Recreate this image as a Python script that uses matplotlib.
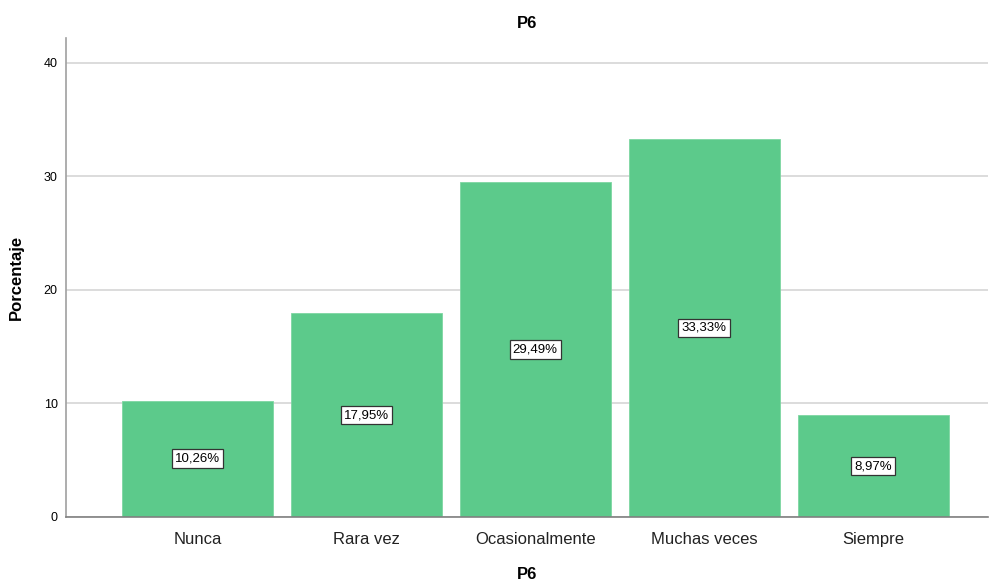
import matplotlib
matplotlib.use('Agg')
import matplotlib.pyplot as plt

categories = ['Nunca', 'Rara vez', 'Ocasionalmente', 'Muchas veces', 'Siempre']
percentages = [10.26, 17.95, 29.49, 33.33, 8.97]
yticks = [0, 10, 20, 30, 40]

plt.rcParams['font.family'] = ['Liberation Sans', 'DejaVu Sans']

fig = plt.figure(figsize=(9.9, 5.82), dpi=100)
ax = fig.add_axes([0.0667, 0.1117, 0.9313, 0.823])

x = range(len(categories))
ax.bar(x, percentages, width=0.893, color='#5cca8b', edgecolor='#7ed6a2', linewidth=0.6, zorder=2)

for i, v in zip(x, percentages):
    ax.text(i, v / 2, ('%.2f%%' % v).replace('.', ','), ha='center', va='center', fontsize=9.5,
            bbox=dict(boxstyle='square,pad=0.25', facecolor='white', edgecolor='#333333', linewidth=0.9),
            zorder=3)

ax.set_xlim(-0.778, 4.68)
ax.set_ylim(0, 42.2)
ax.set_yticks(yticks)
ax.set_xticks(list(x))
ax.set_xticklabels(categories, fontsize=12, color='#222222')
ax.tick_params(axis='y', length=0, labelsize=9, pad=6)
ax.tick_params(axis='x', length=0, pad=11)
ax.yaxis.grid(True, color='#d6d6d6', linewidth=1.2, zorder=0)
ax.set_axisbelow(True)

for s in ['top', 'right']:
    ax.spines[s].set_visible(False)
ax.spines['left'].set_color('#a0a0a0')
ax.spines['bottom'].set_color('#808080')
ax.spines['left'].set_linewidth(1.2)
ax.spines['bottom'].set_linewidth(1.2)

ax.set_title('P6', fontsize=12, fontweight='bold', pad=7)
ax.set_xlabel('P6', fontsize=12, fontweight='bold', labelpad=14)
ax.set_ylabel('Porcentaje', fontsize=12, fontweight='bold', labelpad=14)

fig.savefig('out.png', dpi=100)
